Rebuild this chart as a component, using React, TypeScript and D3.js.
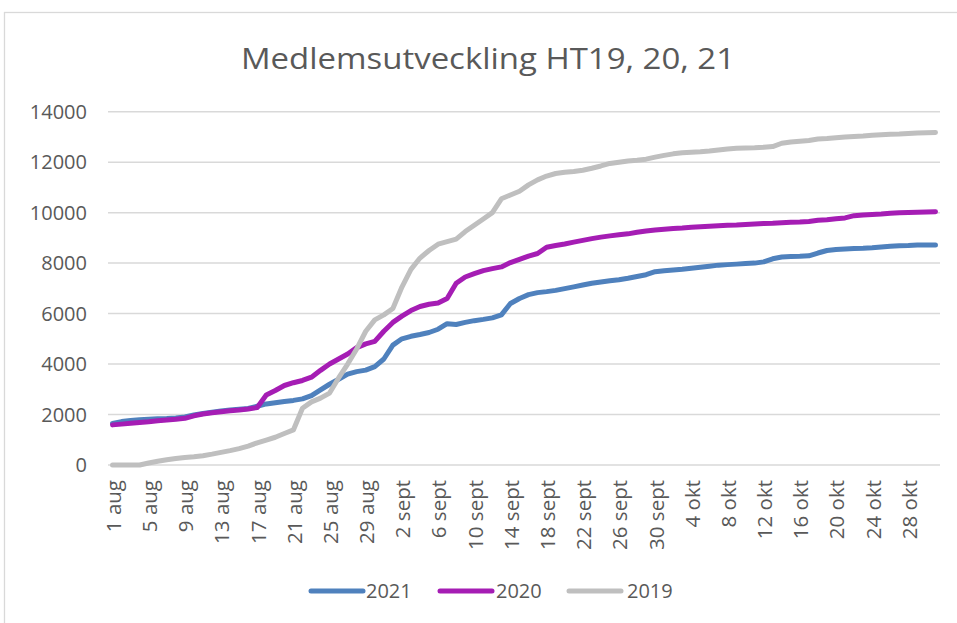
import React from "react";
import * as d3 from "d3";

const months: [string, number][] = [
  ["aug", 31],
  ["sept", 30],
  ["okt", 31],
];
const categories: string[] = months.flatMap(([m, n]) =>
  Array.from({ length: n }, (_, k) => `${k + 1} ${m}`)
);

const tickLabels = [
  "1 aug", "5 aug", "9 aug", "13 aug", "17 aug", "21 aug", "25 aug", "29 aug",
  "2 sept", "6 sept", "10 sept", "14 sept", "18 sept", "22 sept", "26 sept", "30 sept",
  "4 okt", "8 okt", "12 okt", "16 okt", "20 okt", "24 okt", "28 okt",
];

const yTicks = [0, 2000, 4000, 6000, 8000, 10000, 12000, 14000];

const s2021 = [
  1650, 1720, 1760, 1790, 1810, 1830, 1840, 1860, 1900, 1980,
  2040, 2090, 2140, 2180, 2210, 2240, 2330, 2420, 2470, 2520,
  2560, 2620, 2750, 2980, 3200, 3400, 3600, 3700, 3760, 3900,
  4200, 4750, 5000, 5100, 5170, 5250, 5380, 5600, 5570, 5650,
  5720, 5770, 5830, 5950, 6400, 6600, 6750, 6830, 6870, 6920,
  6990, 7060, 7130, 7200, 7250, 7300, 7340, 7400, 7470, 7540,
  7660, 7700, 7730, 7760, 7800, 7840, 7880, 7920, 7940, 7960,
  7980, 8000, 8050, 8170, 8240, 8260, 8270, 8290, 8400, 8500,
  8540, 8560, 8580, 8590, 8610, 8640, 8670, 8690, 8700, 8720,
  8720, 8720,
];

const s2020 = [
  1590, 1620, 1650, 1680, 1710, 1750, 1780, 1810, 1850, 1950,
  2020, 2070, 2110, 2150, 2180, 2220, 2280, 2770, 2950, 3150,
  3260, 3350, 3480, 3750, 4000, 4200, 4400, 4650, 4800, 4900,
  5300, 5650, 5900, 6120, 6280, 6370, 6420, 6600, 7200, 7450,
  7580, 7700, 7780, 7850, 8020, 8150, 8280, 8380, 8630, 8700,
  8760, 8830, 8900, 8970, 9030, 9080, 9120, 9160, 9220, 9270,
  9310, 9340, 9370, 9390, 9420, 9440, 9460, 9480, 9500, 9510,
  9530, 9550, 9570, 9580, 9600, 9620, 9630, 9650, 9700, 9720,
  9760, 9790, 9880, 9910, 9930, 9950, 9980, 10000, 10010, 10020,
  10030, 10040,
];

const s2019 = [
  0, 0, 0, 0, 80, 150, 210, 260, 300, 330,
  370, 430, 500, 570, 650, 750, 880, 990, 1100, 1250,
  1390, 2250, 2500, 2650, 2850, 3450, 4000, 4600, 5300, 5750,
  5950, 6200, 7050, 7750, 8200, 8500, 8750, 8850, 8950, 9250,
  9500, 9750, 10000, 10550, 10700, 10850, 11100, 11300, 11450, 11550,
  11600, 11630, 11680, 11760, 11850, 11950, 12000, 12050, 12080, 12120,
  12200, 12270, 12330, 12370, 12390, 12410, 12440, 12480, 12520, 12550,
  12560, 12570, 12590, 12620, 12750, 12800, 12830, 12860, 12920, 12940,
  12970, 13000, 13020, 13040, 13070, 13090, 13110, 13120, 13140, 13160,
  13170, 13180,
];

const seriesNames = ["2021", "2020", "2019"];
const seriesColors = ["#4f81bd", "#a51db4", "#bfbfbf"];
const seriesData = [s2021, s2020, s2019];

const FONT = "'Open Sans', 'Liberation Sans', sans-serif";
const TEXT = "#595959";

export default function App() {
  const W = 957;
  const H = 623;
  const left = 108;
  const right = 940;
  const top = 111.7;
  const bottom = 465;

  const x = d3
    .scaleBand<string>()
    .domain(categories)
    .range([left, right])
    .paddingInner(0)
    .paddingOuter(0);
  const cx = (c: string) => (x(c) as number) + x.bandwidth() / 2;
  const y = d3.scaleLinear().domain([0, 14000]).range([bottom, top]);

  const line = d3
    .line<number>()
    .x((_, i) => cx(categories[i]))
    .y((d) => y(d));

  const legendItems = [
    { x: 311, tx: 366 },
    { x: 440, tx: 496 },
    { x: 569, tx: 627 },
  ];

  return (
    <svg
      width={W}
      height={H}
      style={{ position: "absolute", left: 0, top: 0, background: "#fff" }}
    >
      <rect x={0} y={0} width={W} height={H} fill="#fff" />
      <rect
        x={4.5}
        y={12.5}
        width={1200}
        height={900}
        fill="none"
        stroke="#d9d9d9"
        strokeWidth={1.3}
      />
      <text
        x={488}
        y={68.5}
        textAnchor="middle"
        fontFamily={FONT}
        fontSize={30}
        fill={TEXT}
        textLength={494}
        lengthAdjust="spacingAndGlyphs"
      >
        Medlemsutveckling HT19, 20, 21
      </text>

      {yTicks.map((t) => (
        <g key={t}>
          <line
            x1={left}
            x2={right}
            y1={y(t)}
            y2={y(t)}
            stroke="#d9d9d9"
            strokeWidth={1.5}
          />
          <text
            x={87}
            y={y(t)}
            dy="0.36em"
            textAnchor="end"
            fontFamily={FONT}
            fontSize={20}
            fill={TEXT}
          >
            {t}
          </text>
        </g>
      ))}

      {tickLabels.map((lbl) => (
        <text
          key={lbl}
          transform={`translate(${cx(lbl) + 1},${480}) rotate(-90)`}
          dy="0.36em"
          textAnchor="end"
          fontFamily={FONT}
          fontSize={20.5}
          fill={TEXT}
        >
          {lbl}
        </text>
      ))}

      {seriesData.map((s, k) => (
        <path
          key={seriesNames[k]}
          d={line(s) || ""}
          fill="none"
          stroke={seriesColors[k]}
          strokeWidth={5}
          strokeLinejoin="round"
          strokeLinecap="round"
        />
      ))}

      {seriesNames.map((n, k) => (
        <g key={n}>
          <line
            x1={legendItems[k].x}
            x2={legendItems[k].x + 52}
            y1={591}
            y2={591}
            stroke={seriesColors[k]}
            strokeWidth={5}
            strokeLinecap="round"
          />
          <text
            x={legendItems[k].tx}
            y={591}
            dy="0.36em"
            fontFamily={FONT}
            fontSize={20}
            fill={TEXT}
          >
            {n}
          </text>
        </g>
      ))}
    </svg>
  );
}
